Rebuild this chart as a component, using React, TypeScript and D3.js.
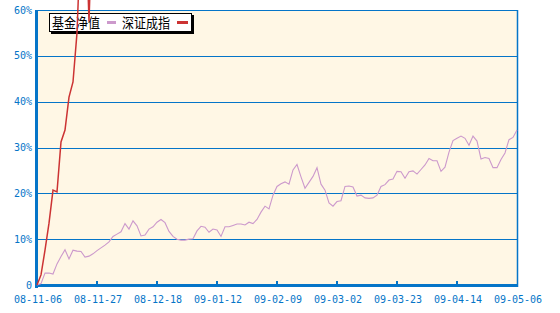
import React from "react";
import * as d3 from "d3";

const tickLabels = ["08-11-06", "08-11-27", "08-12-18", "09-01-12", "09-02-09", "09-03-02", "09-03-23", "09-04-14", "09-05-06"];
const yTicks = [0, 10, 20, 30, 40, 50, 60];
const seriesNames = ["基金净值", "深证成指"];

// 基金净值 (% change), one value per trading day
const fundValues = [
  0, 0.3, 2.6, 2.6, 2.4, 4.6, 6.2, 7.7, 5.7, 7.6,
  7.4, 7.3, 6.1, 6.3, 6.8, 7.5, 8.1, 8.7, 9.4, 10.6,
  11.1, 11.6, 13.4, 12.2, 14.0, 12.9, 10.7, 10.9, 12.2, 12.7,
  13.7, 14.3, 13.6, 11.7, 10.6, 10.0, 9.8, 9.8, 10.0, 10.1,
  11.8, 12.8, 12.6, 11.5, 12.2, 12.0, 10.6, 12.7, 12.7, 13.0,
  13.3, 13.3, 13.1, 13.7, 13.4, 14.3, 15.9, 17.2, 16.6, 19.6,
  21.5, 22.1, 22.5, 22.0, 25.1, 26.3, 23.6, 21.1, 22.4, 23.7,
  25.6, 22.0, 20.7, 17.9, 17.2, 18.2, 18.4, 21.5, 21.6, 21.4,
  19.4, 19.6, 19.0, 18.9, 19.0, 19.6, 21.5, 21.9, 22.9, 23.1,
  24.8, 24.7, 23.3, 24.7, 24.9, 24.2, 25.2, 26.2, 27.6, 27.1,
  27.1, 24.8, 25.7, 29.0, 31.5, 32.0, 32.5, 32.0, 30.5, 32.5,
  31.4, 27.5, 27.8, 27.6, 25.6, 25.6, 27.4, 28.8, 31.7, 32.2,
  33.8,
];

// 深证成指 (% change) — leaves the chart top after a few days
const indexValues = [0, 2.2, 7.6, 13.5, 20.7, 20.3, 31.2, 33.8, 41.0, 44.3, 55.0, 78, 85, 57.5, 85, 95];

const W = 560, H = 313;
const L = 37, R = 517, T = 10, B = 285;
const blue = "#0575c8";
const purple = "#cc99cc";
const red = "#cc3333";

export default function App() {
  const n = fundValues.length;
  const x = d3.scaleLinear().domain([0, n - 1]).range([L, R]);
  const y = d3.scaleLinear().domain([0, 60]).range([B, T]);
  const line = d3.line<number>().x((_, i) => x(i)).y((d) => y(d));
  const step = (n - 1) / (tickLabels.length - 1);
  const mono = "'DejaVu Sans Mono', monospace";

  return (
    <svg width={W} height={H} style={{ position: "fixed", left: 0, top: 0, background: "#fff" }}>
      <rect x={L} y={T} width={R - L} height={B - T} fill="#fff7e5" />
      {yTicks.slice(1).map((t) => (
        <line key={t} x1={L} x2={R} y1={Math.round(y(t)) + 0.5} y2={Math.round(y(t)) + 0.5} stroke={blue} strokeWidth={1} />
      ))}
      <line x1={R + 0.5} x2={R + 0.5} y1={T} y2={B + 2} stroke={blue} strokeWidth={1.5} />
      {yTicks.map((t) => (
        <text key={t} x={32} y={y(t)} dy="0.35em" textAnchor="end" fontFamily={mono} fontSize={10} fill={blue}>
          {t === 0 ? "0" : `${t}%`}
        </text>
      ))}
      {tickLabels.map((lab, k) => {
        const tx = x(k * step);
        return (
          <g key={lab}>
            {k > 0 && k < tickLabels.length - 1 && (
              <rect x={Math.round(tx) - 1} y={281} width={2} height={4} fill={blue} />
            )}
            <text x={tx + 1} y={303} textAnchor="middle" fontFamily={mono} fontSize={10} fill={blue}>
              {lab}
            </text>
          </g>
        );
      })}
      <rect x={L - 2} y={T} width={3} height={B - T + 3} fill={blue} />
      <rect x={L - 2} y={B - 1} width={R - L + 3} height={3} fill={blue} />

      {/* legend */}
      <rect x={51} y={15} width={143} height={19} fill="#000" />
      <rect x={49.5} y={13.5} width={142} height={18} fill="#fff" stroke="#000" strokeWidth={1} />
      <text x={52} y={28} fontFamily="'Noto Sans CJK SC', sans-serif" fontSize={14} textLength={48} lengthAdjust="spacingAndGlyphs" fill="#000">
        {seriesNames[0]}
      </text>
      <rect x={107} y={21} width={9} height={3} fill={purple} />
      <text x={122} y={28} fontFamily="'Noto Sans CJK SC', sans-serif" fontSize={14} textLength={48} lengthAdjust="spacingAndGlyphs" fill="#000">
        {seriesNames[1]}
      </text>
      <rect x={177} y={21} width={11} height={3} fill={red} />

      <path d={line(fundValues) || ""} fill="none" stroke={purple} strokeWidth={1.1} />
      <path d={line(indexValues) || ""} fill="none" stroke={red} strokeWidth={1.5} />
    </svg>
  );
}
